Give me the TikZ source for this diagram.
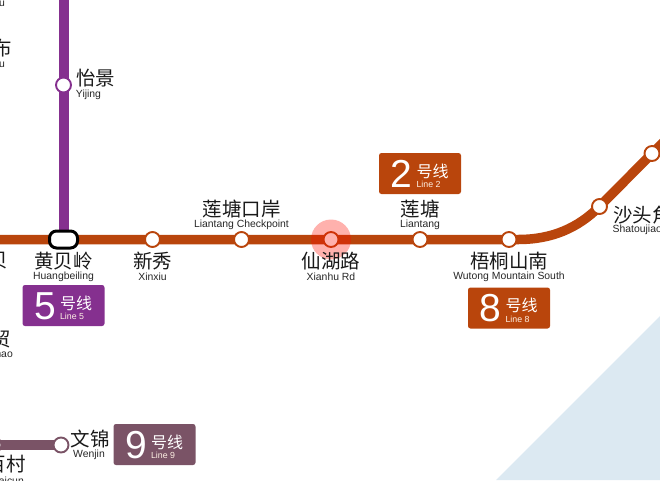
\documentclass[tikz,border=0pt]{standalone}
\usepackage{fontspec}
\usetikzlibrary{backgrounds}
\setmainfont{Liberation Sans}
\newfontfamily\cjk{Noto Sans CJK SC}
\definecolor{orangeline}{HTML}{B9450C}
\definecolor{purpleline}{HTML}{85308F}
\definecolor{mauveline}{HTML}{7A5366}
\definecolor{water}{HTML}{DCE9F2}
\tikzset{
  x=1pt,y=-1pt,
  cn/.style={font=\cjk\fontsize{19.5}{19.5}\selectfont,inner sep=0pt,text=black!90},
  en/.style={font=\fontsize{10.4}{10.4}\selectfont,inner sep=0pt,text=black!85},
  orangetrack/.style={draw=orangeline,line width=9.5pt},
  othertrack/.style={draw=#1,line width=10pt},
  stn/.style={circle,draw=#1,fill=white,line width=1.9pt,minimum size=15pt,inner sep=0pt},
  hub/.style={rectangle,rounded corners=7pt,draw=black,fill=white,line width=3pt,minimum width=28pt,minimum height=17pt,inner sep=0pt},
  linebadge/.style={rectangle,rounded corners=2.5pt,fill=#1,minimum width=82pt,minimum height=41pt,inner sep=0pt},
  bignum/.style={font=\fontsize{39}{39}\selectfont,text=white,inner sep=0pt},
  hao/.style={font=\cjk\fontsize{16}{16}\selectfont,text=white,inner sep=0pt},
  sublabel/.style={font=\fontsize{8.8}{8.8}\selectfont,text=white!90!orange,inner sep=0pt},
}
\newcommand{\badge}[5]{%
  \node[linebadge=#3] (#1) at (#2) {};
  \node[bignum] (#1n) at ([xshift=-18.5pt,yshift=-0.5pt]#1.center) {#4};
  \node[hao] (#1h) at ([xshift=12.5pt,yshift=2.5pt]#1.center) {号线};
  \node[sublabel] (#1s) at ([xshift=8.5pt,yshift=-11pt]#1.center) {#5};
}
\begin{document}
\begin{tikzpicture}
\useasboundingbox (0,0) rectangle (660,480);
\clip (0,0) rectangle (660,480);
% free ends
\coordinate (west) at (-8,239.5);
\coordinate (north) at (63.5,-8);
\coordinate (east) at (672,133.5);
% stations
\node[stn=purpleline] (yj) at (63.5,85) {};
\node[hub] (hb) at (63.5,239.5) {};
\node[stn=orangeline] (xx) at (152.5,239.5) {};
\node[stn=orangeline] (lc) at (241.5,239.5) {};
\node[stn=orangeline] (xh) at (331,239.5) {};
\node[stn=orangeline] (lt) at (420,239.5) {};
\node[stn=orangeline] (wt) at (509,239.5) {};
\node[stn=orangeline] (st) at (599.5,206.5) {};
\node[stn=orangeline] (n1) at (652,153.5) {};
\node[stn=mauveline] (wj) at (61,445) {};
\node[stn=mauveline] (w0) at (-6,445) {};
% water and tracks
\begin{pgfonlayer}{background}
\fill[water] (660,316) -- (496,480) -- (660,480) -- cycle;
\draw[othertrack=mauveline] (w0.center) -- (wj.center);
\draw[othertrack=purpleline] (north) -- (yj.center) -- (hb.center);
\draw[orangetrack] (west) -- (hb.center) -- (xx.center) -- (lc.center) -- (xh.center) -- (lt.center) -- (wt.center) -- (518,239.5) .. controls (552,239.5) and (578,228) .. (st.center) -- (n1.center) -- (east);
\end{pgfonlayer}
% highlight
\fill[red!90!orange,opacity=0.32] (xh.center) circle (20pt);
% labels
\node[cn] (l1) at (95.5,78) {怡景};
\node[en] (l2) at (88.5,94.5) {Yijing};
\node[cn] (l3) at (63.5,261) {黄贝岭};
\node[en] (l4) at (63.5,277) {Huangbeiling};
\node[cn] (l5) at (152.5,261) {新秀};
\node[en] (l6) at (152.5,277) {Xinxiu};
\node[cn] (l7) at (241.5,209) {莲塘口岸};
\node[en] (l8) at (241.5,224.5) {Liantang Checkpoint};
\node[cn] (l9) at (331,261) {仙湖路};
\node[en] (l10) at (331,277) {Xianhu Rd};
\node[cn] (l11) at (420,209) {莲塘};
\node[en] (l12) at (420,224.5) {Liantang};
\node[cn] (l13) at (509,261) {梧桐山南};
\node[en] (l14) at (509,277) {Wutong Mountain South};
\node[cn,anchor=west] (l15) at (613,215) {沙头角};
\node[en,anchor=west] (l16) at (612.5,229.5) {Shatoujiao};
\node[cn] (l17) at (90,439.5) {文锦};
\node[en] (l18) at (89,454.5) {Wenjin};
\node[cn,anchor=east] (l19) at (26,464) {百村};
\node[en,anchor=east] (l20) at (24,480.5) {Baicun};
\node[cn,anchor=east] (l21) at (12,48) {布};
\node[en,anchor=east] (l22) at (5,64) {Bu};
\node[en,anchor=east] (l23) at (5,3) {Bu};
\node[cn,anchor=east] (l24) at (8,261) {贝};
\node[cn,anchor=east] (l25) at (11,339) {贸};
\node[en,anchor=east] (l26) at (13,354) {Guomao};
% badges
\badge{b5}{63.5,305.5}{purpleline}{5}{Line 5}
\badge{b2}{420,173.5}{orangeline}{2}{Line 2}
\badge{b8}{509,308}{orangeline}{8}{Line 8}
\badge{b9}{154.5,444.5}{mauveline}{9}{Line 9}
\end{tikzpicture}
\end{document}
